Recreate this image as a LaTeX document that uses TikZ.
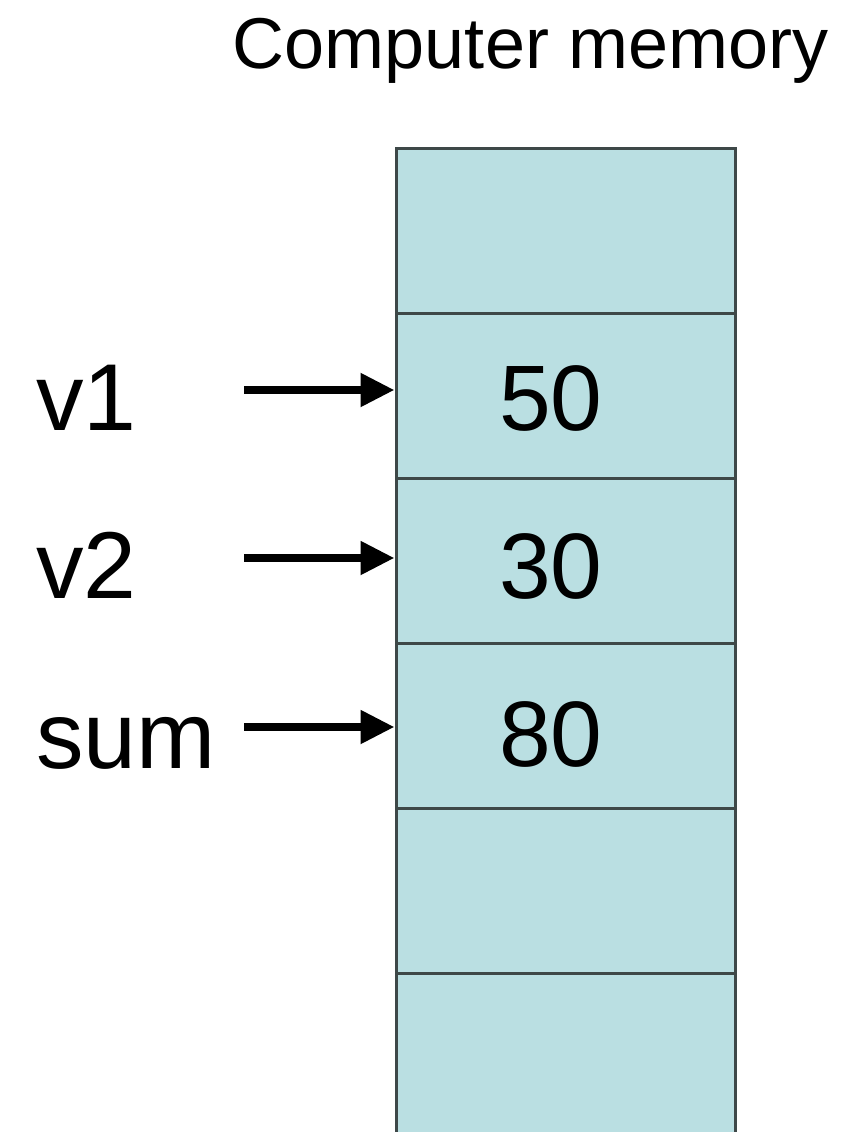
\documentclass[tikz,border=0pt]{standalone}
\usepackage{fontspec}
\setmainfont{Liberation Sans}
\usetikzlibrary{arrows.meta}
\definecolor{cellfill}{HTML}{BADFE2}
\definecolor{cellline}{HTML}{3E4848}
\begin{document}
\begin{tikzpicture}[x=1pt,y=-1pt,
  cell/.style={draw=cellline,fill=cellfill,line width=3pt,rectangle,minimum width=339pt,minimum height=165pt,inner sep=0pt},
  val/.style={anchor=base,inner sep=0pt,font=\fontsize{93}{93}\selectfont},
  lbl/.style={anchor=base west,inner sep=0pt,font=\fontsize{95}{95}\selectfont},
  ptr/.style={line width=8pt,-{Triangle[length=34pt,width=32pt]}}]
\useasboundingbox (0,0) rectangle (858,1132);
\clip (0,0) rectangle (858,1132);
\node[anchor=base,inner sep=0pt,font=\fontsize{72}{72}\selectfont] (title) at (531,68) {Computer memory};
\node[cell] (c1) at (565.5,231) {};
\node[cell] (c2) at (565.5,396) {};
\node[cell] (c3) at (565.5,561) {};
\node[cell] (c4) at (565.5,726) {};
\node[cell] (c5) at (565.5,891) {};
\node[cell] (c6) at (565.5,1056) {};
\node[cell,minimum height=200pt] (c7) at (565.5,1238) {};
\node[val] (n1) at (551,430) {50};
\node[val] (n2) at (551,598) {30};
\node[val] (n3) at (551,766) {80};
\node[lbl] (v1) at (36,430) {v1};
\node[lbl] (v2) at (36,598) {v2};
\node[lbl] (sum) at (36,768) {sum};
\coordinate (a1) at (244,390);
\coordinate (a2) at (244,558);
\coordinate (a3) at (244,727);
\draw[ptr] (a1) -- (a1 -| c2.west);
\draw[ptr] (a2) -- (a2 -| c3.west);
\draw[ptr] (a3) -- (a3 -| c4.west);
\end{tikzpicture}
\end{document}
